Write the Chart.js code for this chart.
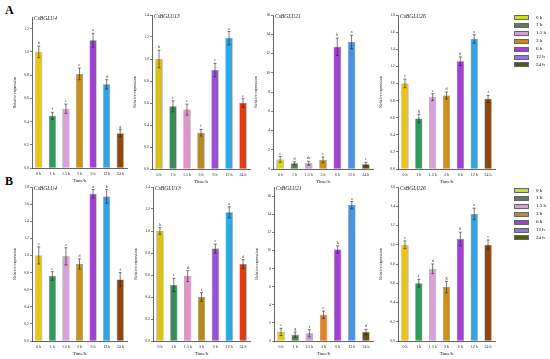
<!DOCTYPE html>
<html>
<head>
<meta charset="utf-8">
<script src="https://cdn.jsdelivr.net/npm/chart.js@4.4.1/dist/chart.umd.min.js"></script>
<style>
  body { margin:0; background:#fff; }
  #page { position:relative; width:550px; height:359px; overflow:hidden; font-family:"Liberation Serif","Times New Roman",serif; }
  canvas { position:absolute; }
  .panel { position:absolute; font-weight:bold; font-size:12px; }
  .legend { position:absolute; font-size:5px; }
  .legend .row { position:absolute; left:0; width:40px; height:6px; }
  .legend .box { position:absolute; left:0; top:0; width:15px; height:5px; border:0.5px solid #666; box-sizing:border-box; }
  .legend .txt { position:absolute; left:22px; top:-0.5px; line-height:6px; white-space:nowrap; }
</style>
</head>
<body>
<div id="page">
  <div class="panel" style="left:5px;top:3px">A</div>
  <div class="panel" style="left:5px;top:174px">B</div>
</div>
<script>
// categories
const times = ['0 h', '1 h', '1.5 h', '3 h', '6 h', '12 h', '24 h']

// panel A (top row)
const a1Values = [1.00, 0.45, 0.51, 0.81, 1.10, 0.72, 0.30]
const a1Errors = [0.05, 0.03, 0.04, 0.05, 0.06, 0.04, 0.03]
const a1Letters = ['b', 'f', 'e', 'c', 'a', 'd', 'g']

const a2Values = [1.00, 0.57, 0.54, 0.33, 0.90, 1.19, 0.60]
const a2Errors = [0.08, 0.05, 0.05, 0.03, 0.06, 0.06, 0.04]
const a2Letters = ['b', 'e', 'e', 'f', 'c', 'a', 'e']

const a3Values = [1.0, 0.6, 0.6, 0.95, 12.7, 13.2, 0.5]
const a3Errors = [0.3, 0.15, 0.2, 0.3, 0.9, 0.7, 0.2]
const a3Letters = ['c', 'd', 'de', 'c', 'b', 'a', 'e']

const a4Values = [1.00, 0.59, 0.84, 0.86, 1.26, 1.52, 0.82]
const a4Errors = [0.05, 0.05, 0.04, 0.04, 0.05, 0.05, 0.04]
const a4Letters = ['c', 'g', 'e', 'd', 'b', 'a', 'f']

// panel B (bottom row)
const b1Values = [1.00, 0.76, 0.99, 0.90, 1.72, 1.69, 0.72]
const b1Errors = [0.10, 0.05, 0.10, 0.06, 0.05, 0.08, 0.08]
const b1Letters = ['c', 'e', 'c', 'd', 'a', 'b', 'f']

const b2Values = [1.00, 0.51, 0.59, 0.40, 0.84, 1.17, 0.70]
const b2Errors = [0.03, 0.06, 0.05, 0.04, 0.04, 0.05, 0.04]
const b2Letters = ['b', 'e', 'd', 'f', 'c', 'a', 'd']

const b3Values = [1.0, 0.7, 0.85, 2.9, 10.1, 15.0, 1.0]
const b3Errors = [0.4, 0.3, 0.4, 0.4, 0.4, 0.4, 0.3]
const b3Letters = ['e', 'g', 'f', 'c', 'b', 'a', 'd']

const b4Values = [1.00, 0.60, 0.75, 0.56, 1.06, 1.32, 1.00]
const b4Errors = [0.04, 0.04, 0.05, 0.06, 0.07, 0.06, 0.05]
const b4Letters = ['c', 'f', 'd', 'g', 'b', 'a', 'c']

// colours
const palA = ['#e8c41c', '#2f9a5c', '#d8a2d8', '#c8921c', '#a242d0', '#35a2e2', '#8c4a12']
const palRed = ['#d6c21c', '#3a8a5a', '#e294c8', '#b88a22', '#9a52d2', '#2aa8e8', '#e23c12']
const palGrey = ['#e0d022', '#5c7a5c', '#c2a2d8', '#c8921c', '#a242d0', '#4a92e2', '#6a5012']
const palOrange = ['#d8d022', '#5c7a5c', '#c2a2d8', '#e28222', '#a242d0', '#4a92e2', '#6a5012']
const legendColors = ['#c8e024', '#62796a', '#d2a2d8', '#c28a22', '#a242d0', '#8a7ae0', '#4e5a12']

const FONT = '"Liberation Serif","Times New Roman",serif'
const page = document.getElementById('page')

function makeChart(gene, values, errors, letters, colors, max, tickMax, step, dec, box) {
  const PL = 1, PR = 4, PT = 7, PB = 1, YW = 19, XH = 16
  const [left, top, right, bottom] = box
  const w = PL + YW + (right - left) + PR
  const h = PT + (bottom - top) + XH + PB
  const canvas = document.createElement('canvas')
  canvas.width = w; canvas.height = h
  canvas.style.left = (left - YW - PL) + 'px'
  canvas.style.top = (top - PT) + 'px'
  canvas.style.width = w + 'px'; canvas.style.height = h + 'px'
  page.appendChild(canvas)

  // error bars, significance letters and the gene name
  const marks = {
    id: 'marks',
    afterDatasetsDraw(chart) {
      const ctx = chart.ctx
      const y = chart.scales.y
      const meta = chart.getDatasetMeta(0)
      ctx.save()
      ctx.strokeStyle = '#222'
      ctx.lineWidth = 0.6
      ctx.fillStyle = '#222'
      ctx.font = '4px ' + FONT
      ctx.textAlign = 'center'
      ctx.textBaseline = 'bottom'
      meta.data.forEach((bar, i) => {
        const yt = y.getPixelForValue(values[i] + errors[i])
        const yb = y.getPixelForValue(values[i] - errors[i])
        const cx = bar.x
        ctx.beginPath()
        ctx.moveTo(cx, yt); ctx.lineTo(cx, yb)
        ctx.moveTo(cx - 1.5, yt); ctx.lineTo(cx + 1.5, yt)
        ctx.moveTo(cx - 1.5, yb); ctx.lineTo(cx + 1.5, yb)
        ctx.stroke()
        ctx.fillText(letters[i], cx, yt - 1)
      })
      ctx.font = 'italic 5.5px ' + FONT
      ctx.textAlign = 'left'
      ctx.textBaseline = 'middle'
      ctx.fillStyle = '#111'
      ctx.fillText(gene, chart.chartArea.left + 2, chart.chartArea.top + 2)
      ctx.restore()
    }
  }

  new Chart(canvas, {
    type: 'bar',
    data: {
      labels: times,
      datasets: [{
        data: values,
        backgroundColor: colors,
        borderColor: 'rgba(40,40,40,0.7)',
        borderWidth: 0.5,
        barPercentage: 0.52,
        categoryPercentage: 1
      }]
    },
    plugins: [marks],
    options: {
      responsive: false,
      animation: false,
      devicePixelRatio: 1,
      layout: { padding: { left: PL, right: PR, top: PT, bottom: PB } },
      plugins: { legend: { display: false }, tooltip: { enabled: false } },
      scales: {
        x: {
          grid: { display: false, drawTicks: false },
          border: { color: '#222', width: 0.7 },
          ticks: { font: { family: FONT, size: 4 }, color: '#222', padding: 4, maxRotation: 0, autoSkip: false },
          title: { display: true, text: 'Time/h', font: { family: FONT, size: 4.8 }, color: '#111', padding: { top: 1, bottom: 0 } },
          afterFit(s) { s.height = XH }
        },
        y: {
          min: 0,
          max: max,
          grid: { drawOnChartArea: false, drawTicks: true, tickLength: 2, color: '#222', lineWidth: 0.6 },
          border: { color: '#222', width: 0.7 },
          ticks: {
            stepSize: step,
            font: { family: FONT, size: 3.8 },
            color: '#222',
            padding: 1,
            callback: v => v.toFixed(dec)
          },
          afterBuildTicks(s) { s.ticks = s.ticks.filter(t => t.value <= tickMax + 1e-9) },
          title: { display: true, text: 'Relative expression', font: { family: FONT, size: 4 }, color: '#111', padding: { top: 0, bottom: 1 } },
          afterFit(s) { s.width = YW }
        }
      }
    }
  })
}

makeChart('CsBGLU4', a1Values, a1Errors, a1Letters, palA, 1.3, 1.2, 0.2, 1, [32, 17, 127, 168])
makeChart('CsBGLU13', a2Values, a2Errors, a2Letters, palRed, 1.4, 1.4, 0.2, 1, [152, 15, 250, 169])
makeChart('CsBGLU21', a3Values, a3Errors, a3Letters, palGrey, 16, 16, 2, 0, [273, 15, 373, 169])
makeChart('CsBGLU26', a4Values, a4Errors, a4Letters, palA, 1.8, 1.8, 0.2, 1, [398, 15, 495, 169])

makeChart('CsBGLU4', b1Values, b1Errors, b1Letters, palA, 1.8, 1.8, 0.2, 1, [32, 187, 127, 341])
makeChart('CsBGLU13', b2Values, b2Errors, b2Letters, palRed, 1.4, 1.4, 0.2, 1, [153, 187, 250, 341])
makeChart('CsBGLU21', b3Values, b3Errors, b3Letters, palOrange, 17, 16, 2, 0, [274, 187, 373, 341])
makeChart('CsBGLU26', b4Values, b4Errors, b4Letters, palA, 1.6, 1.6, 0.2, 1, [398, 187, 495, 341])

function makeLegend(x, y) {
  const lg = document.createElement('div')
  lg.className = 'legend'
  lg.style.left = x + 'px'
  lg.style.top = y + 'px'
  times.forEach((t, i) => {
    const row = document.createElement('div')
    row.className = 'row'
    row.style.top = (i * 7.9) + 'px'
    row.innerHTML = '<div class="box" style="background:' + legendColors[i] + '"></div><div class="txt">' + t + '</div>'
    lg.appendChild(row)
  })
  page.appendChild(lg)
}
makeLegend(514, 15)
makeLegend(514, 188)
</script>
</body>
</html>
